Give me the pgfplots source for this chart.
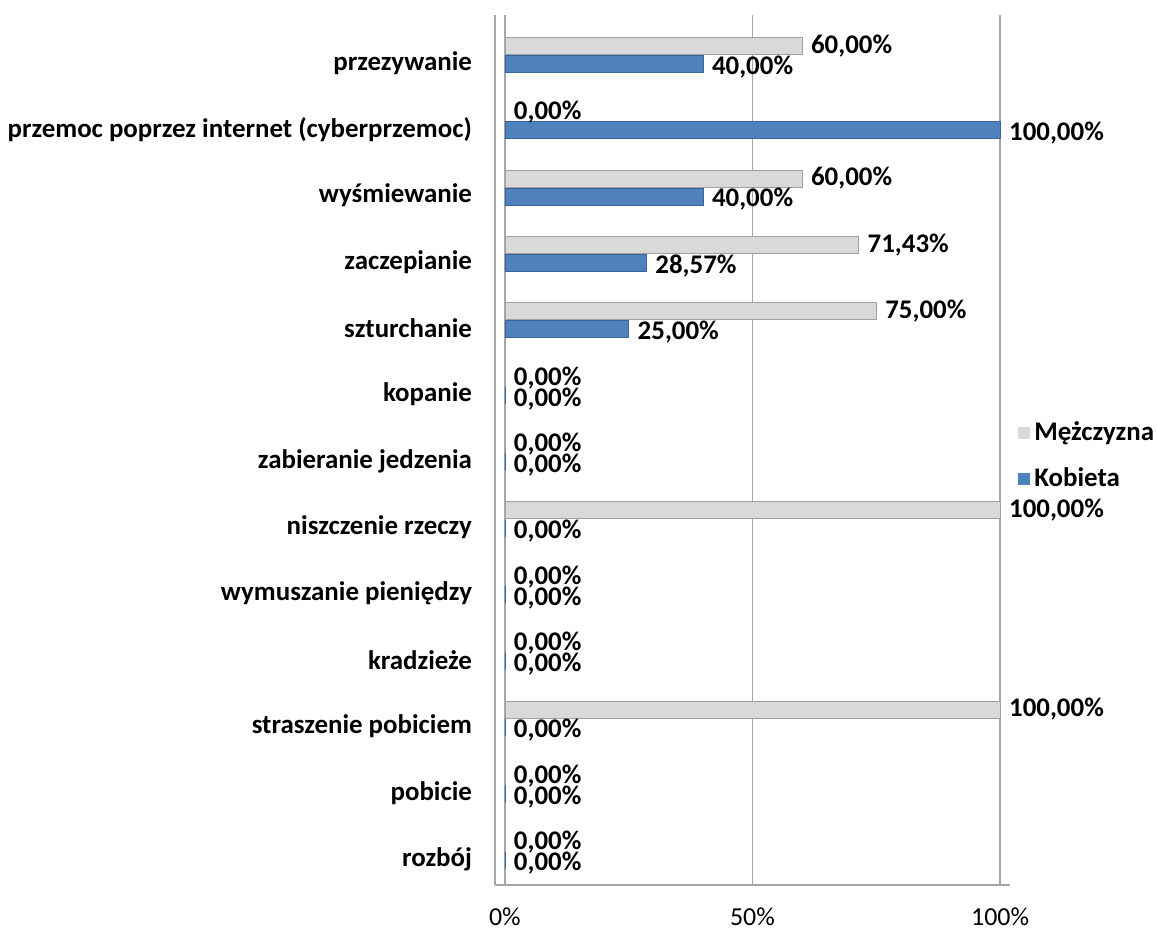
\documentclass[border=0pt]{standalone}
\usepackage{pgfplots}
\pgfplotsset{compat=1.18}
\usepackage{fontspec}
\setmainfont{Carlito}
\definecolor{kob}{HTML}{4F81BD}
\definecolor{kobciemny}{HTML}{3A659A}
\definecolor{mez}{HTML}{D9D9D9}
\definecolor{osie}{HTML}{A6A6A6}
\newcommand{\grube}{\fontsize{13.5}{16}\selectfont\bfseries}
\begin{document}
\fontsize{13}{15}\selectfont
\begin{tikzpicture}[x=1bp,y=1bp]
\path[use as bounding box] (-247.5,-25.5) rectangle (331,442.5);
\begin{axis}[
  at={(0,0)}, anchor=south west,
  scale only axis, width=257.5bp, height=435bp,
  xbar=0.5bp, bar width=8.5bp,
  xmin=-2, xmax=102, ymin=-0.51, ymax=12.6,
  ytick={0,...,12},
  yticklabels={rozbój, pobicie, straszenie pobiciem, kradzieże,
    wymuszanie pieniędzy, niszczenie rzeczy, zabieranie jedzenia,
    kopanie, szturchanie, zaczepianie, wyśmiewanie,
    przemoc poprzez internet (cyberprzemoc), przezywanie},
  yticklabel style={font=\grube, xshift=-7bp, yshift=-4bp},
  xtick={0,50,100},
  xticklabel={\pgfmathprintnumber{\tick}\%},
  xticklabel style={yshift=-7bp},
  /pgf/number format/assume math mode=true,
  major tick length=0pt,
  xmajorgrids, grid style={osie, line width=0.8pt},
  axis x line*=bottom, axis y line*=left,
  axis line style={osie, line width=0.8pt, -},
  clip=false,
  nodes near coords={\pgfmathprintnumber[fixed,fixed zerofill,precision=2,use comma]{\pgfplotspointmeta}\%},
  nodes near coords style={font=\grube, anchor=west, black, inner ysep=1bp},
  legend style={at={(1,0.5)}, anchor=west, xshift=1bp, yshift=-3bp,
    draw=none, fill=none, font=\grube, row sep=8bp},
  legend cell align=left,
  reverse legend,
  legend image code/.code={\fill[#1,draw=none] (0bp,-3bp) rectangle (6bp,3bp);},
]
\addplot[fill=kob, draw=kobciemny,
  every node near coord/.append style={yshift=-1.5bp}]
  coordinates {
  (0,0) (0,1) (0,2) (0,3) (0,4) (0,5) (0,6)
  (0,7) (25,8) (28.57,9) (40,10) (100,11) (40,12)};
\addplot[fill=mez, draw=gray!75]
  coordinates {
  (0,0) (0,1) (100,2) (0,3) (0,4) (100,5) (0,6)
  (0,7) (75,8) (71.43,9) (60,10) (0,11) (60,12)};
\legend{Kobieta, Mężczyzna}
\end{axis}
\end{tikzpicture}
\end{document}
